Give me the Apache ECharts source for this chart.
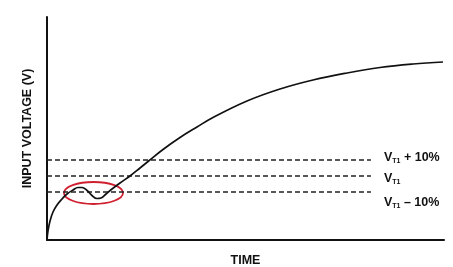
<!DOCTYPE html>
<html><head><meta charset="utf-8">
<script src="https://cdn.jsdelivr.net/npm/echarts@6/dist/echarts.min.js"></script>
<style>html,body{margin:0;padding:0;background:#fff}#c{width:453px;height:267px}</style>
</head><body><div id="c"></div>
<script>
// Input voltage curve (time %, voltage %)
const curveTime = [0,0.25,0.76,1.51,2.52,3.78,5.04,6.55,7.81,8.82,10.08,11.34,12.59,13.60,14.86,16.37,18.39,20.91,23.43,25.44,29.22,33.50,37.78,41.81,50.38,58.69,67.00,75.57,83.88,92.19,99.75];
const curveVolt = [0,4.04,8.52,12.56,15.70,18.39,20.63,22.42,23.54,23.54,22.20,19.96,18.61,18.83,20.63,22.87,25.56,28.70,32.29,35.20,40.58,45.96,50.67,54.93,62.33,67.71,71.75,74.89,77.35,78.92,79.82];
// Threshold levels
const thresholdNames = ['VT1 + 10%', 'VT1', 'VT1 − 10%'];
const thresholdLevels = [35.87, 28.70, 21.52];
const thresholdSuffix = [' + 10%', '', ' – 10%'];
const thresholdStart = 0;
const thresholdEnd = 81.6;
// Highlight ellipse: [centerTime, centerVolt, halfWidthTime, halfHeightVolt]
const highlight = [[11.71, 21.08, 7.43, 4.93]];

const chart = echarts.init(document.getElementById('c'));
const font = '"Liberation Sans", Arial, sans-serif';
const labelOffsets = [[0,-2.5],[0,3],[0,10.5]];
const thresholdSeries = thresholdLevels.map((lv, i) => ({
  type: 'line', name: thresholdNames[i],
  data: [[thresholdStart, lv], [thresholdEnd, lv]],
  symbol: 'none', silent: true,
  lineStyle: { color: '#222', width: 1.5, type: [5, 3] },
  endLabel: {
    show: true, distance: 13, offset: labelOffsets[i],
    formatter: '{v|V}{s|T1}{n|' + thresholdSuffix[i] + '}',
    rich: {
      v: { fontFamily: font, fontWeight: 'bold', fontSize: 12.5, color: '#111' },
      s: { fontFamily: font, fontWeight: 'bold', fontSize: 7, color: '#111', padding: [7, 0, 0, 0] },
      n: { fontFamily: font, fontWeight: 'bold', fontSize: 12.5, color: '#111' }
    }
  }
}));

chart.setOption({
  animation: false,
  grid: { left: 47, right: 9, top: 17, bottom: 27, outerBoundsMode: 'none', containLabel: false },
  xAxis: {
    type: 'value', min: 0, max: 100,
    name: 'TIME', nameLocation: 'middle', nameGap: 14,
    nameTextStyle: { fontFamily: font, fontWeight: 'bold', fontSize: 12.5, color: '#111' },
    axisLine: { show: true, onZero: false, lineStyle: { color: '#111', width: 2 } },
    axisTick: { show: false }, axisLabel: { show: false }, splitLine: { show: false }
  },
  yAxis: {
    type: 'value', min: 0, max: 100,
    name: 'INPUT VOLTAGE (V)', nameLocation: 'middle', nameGap: 13,
    nameTextStyle: { fontFamily: font, fontWeight: 'bold', fontSize: 12.5, color: '#111' },
    axisLine: { show: true, lineStyle: { color: '#111', width: 2 } },
    axisTick: { show: false }, axisLabel: { show: false }, splitLine: { show: false }
  },
  series: [
    ...thresholdSeries,
    {
      type: 'line', name: 'Input voltage',
      data: curveTime.map((t, i) => [t, curveVolt[i]]),
      smooth: 0.4, symbol: 'none', silent: true,
      lineStyle: { color: '#111', width: 1.7 }
    },
    {
      type: 'custom', name: 'highlight', silent: true,
      data: highlight,
      renderItem: function (params, api) {
        const c = api.coord([api.value(0), api.value(1)]);
        const sz = api.size([api.value(2), api.value(3)]);
        return {
          type: 'ellipse',
          shape: { cx: c[0], cy: c[1], rx: sz[0], ry: sz[1] },
          style: { fill: 'none', stroke: '#d02030', lineWidth: 1.8 }
        };
      }
    }
  ]
});
</script></body></html>
